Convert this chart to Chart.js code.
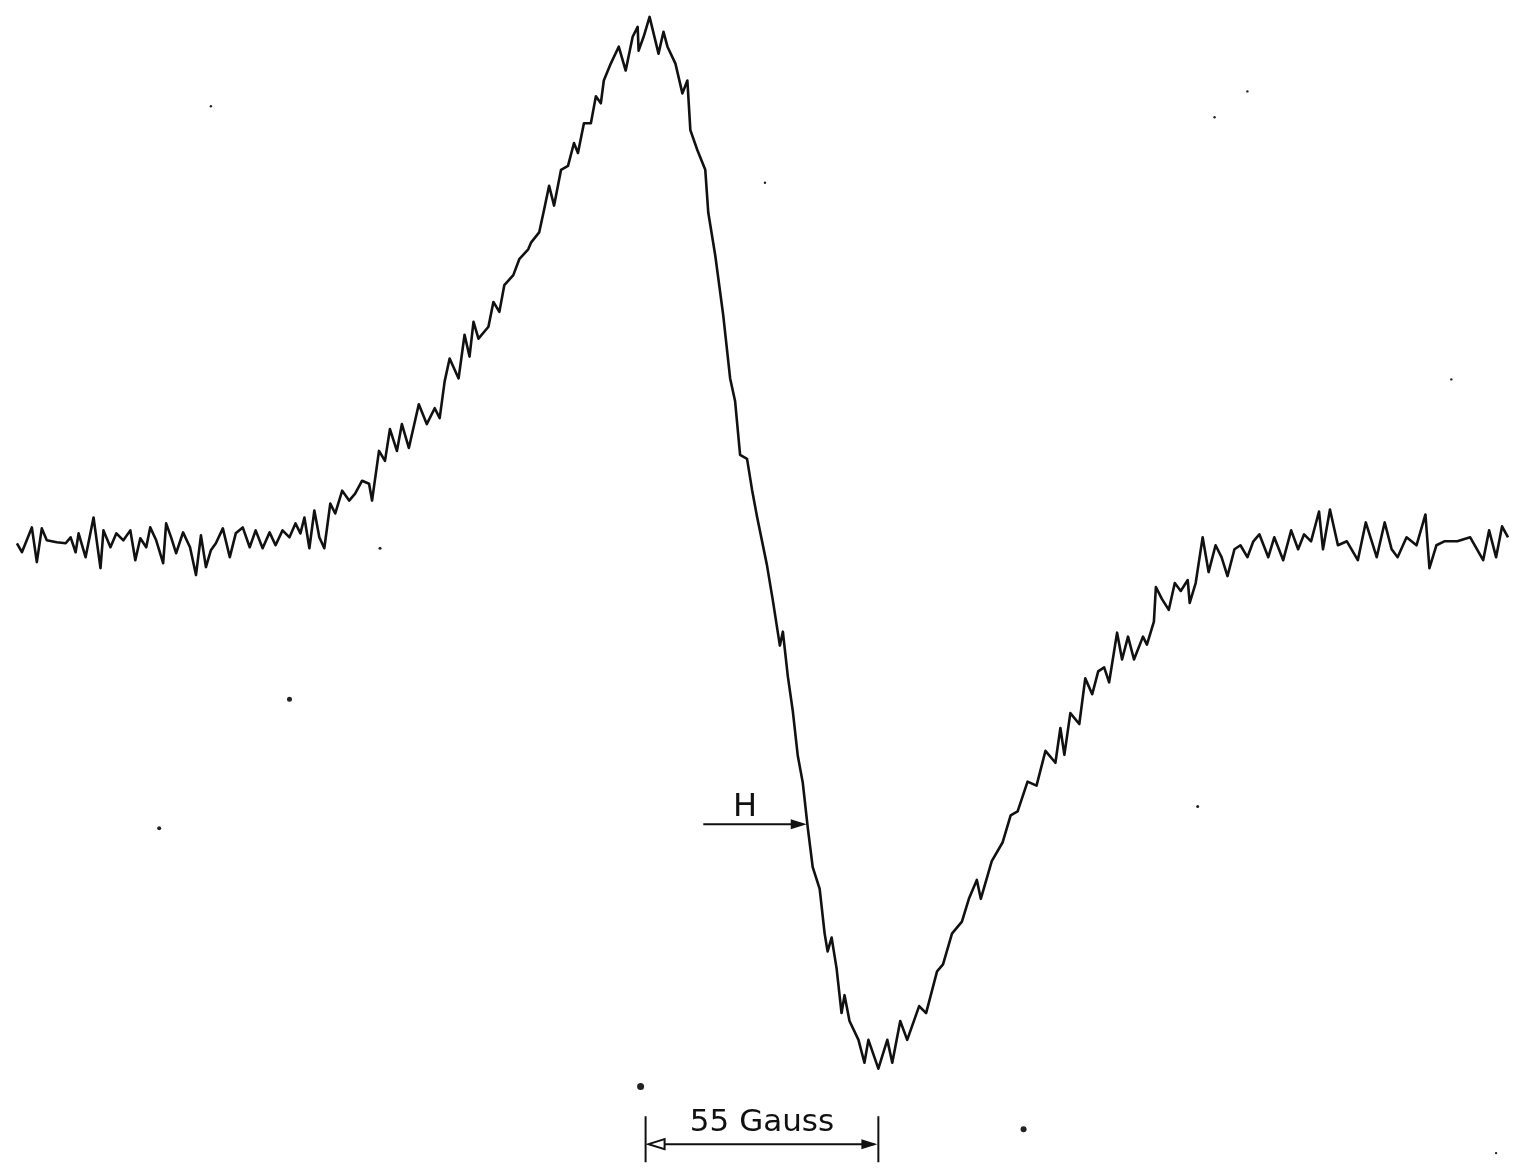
<!DOCTYPE html>
<html>
<head>
<meta charset="utf-8">
<script src="https://cdn.jsdelivr.net/npm/chart.js@4.4.1/dist/chart.umd.min.js"></script>
<style>
  html, body { margin: 0; padding: 0; background: #fff; }
  #wrap { width: 1515px; height: 1169px; }
</style>
</head>
<body>
<div id="wrap"><canvas id="esr" width="1515" height="1169"></canvas></div>
<script>
// ESR derivative trace (arbitrary units)
// field: sweep position, signal: pen deflection from baseline (up = positive)
var field = [
  13, 18, 28, 33, 38, 43, 53, 62, 67, 72, 75, 82, 90, 97, 100, 107, 113, 120, 127, 132,
  137, 143, 147, 153, 160, 163, 168, 173, 180, 187, 193, 198, 203, 208, 213, 220, 227, 233, 240, 247,
  253, 260, 267, 273, 280, 287, 293, 298, 302, 307, 312, 317, 322, 328, 333, 340, 347, 353, 360, 367,
  370, 377, 383, 388, 395, 400, 407, 417, 425, 433, 438, 443, 448, 457, 463, 468, 472, 477, 487, 492,
  498, 503, 512, 518, 527, 530, 538, 543, 548, 553, 560, 567, 573, 577, 583, 590, 595, 600, 603, 610,
  618, 625, 632, 637, 638, 643, 649, 658, 663, 667, 675, 682, 687, 690, 697, 705, 708, 715, 723, 730,
  735, 740, 747, 752, 757, 767, 773, 780, 783, 788, 793, 798, 803, 808, 813, 820, 825, 828, 832, 837,
  842, 845, 850, 859, 865, 869, 879, 888, 893, 901, 908, 920, 927, 938, 944, 953, 963, 970, 978, 982,
  993, 1004, 1012, 1019, 1029, 1038, 1047, 1057, 1062, 1066, 1072, 1081, 1087, 1094, 1100, 1106, 1111, 1119, 1124, 1130,
  1136, 1145, 1149, 1156, 1158, 1164, 1171, 1177, 1183, 1190, 1192, 1198, 1205, 1211, 1218, 1224, 1230, 1237, 1243, 1250,
  1256, 1262, 1271, 1277, 1286, 1294, 1301, 1307, 1314, 1322, 1326, 1333, 1341, 1350, 1361, 1369, 1380, 1388, 1395, 1401,
  1410, 1420, 1429, 1433, 1440, 1448, 1461, 1474, 1487, 1493, 1500, 1506, 1512
];
var signal = [
  2, -7, 18, -17, 17, 5, 3, 2, 8, -7, 12, -12, 28, -23, 15, -2, 12, 5, 15, -15,
  7, -2, 18, 5, -18, 22, 8, -8, 13, -2, -30, 10, -22, -5, 2, 17, -12, 12, 18, -2,
  15, -3, 13, 0, 15, 8, 22, 12, 28, -3, 35, 8, -3, 42, 32, 55, 45, 52, 65, 62,
  45, 95, 85, 117, 95, 122, 98, 142, 122, 138, 128, 165, 188, 168, 212, 190, 225, 208, 220, 245,
  235, 262, 272, 288, 298, 305, 315, 338, 362, 342, 378, 382, 405, 395, 425, 425, 452, 445, 468, 485,
  502, 478, 512, 522, 498, 512, 532, 495, 517, 502, 485, 455, 468, 418, 398, 378, 335, 292, 232, 168,
  145, 91, 87, 56, 29, -20, -56, -101, -87, -132, -167, -212, -239, -284, -324, -346, -391, -409, -395, -426,
  -471, -453, -479, -498, -521, -498, -527, -498, -521, -479, -498, -464, -471, -429, -422, -391, -379, -356, -337, -356,
  -318, -299, -272, -268, -238, -242, -207, -219, -184, -211, -169, -180, -134, -150, -127, -123, -138, -88, -115, -92,
  -115, -92, -100, -77, -42, -54, -65, -38, -46, -35, -58, -38, 8, -27, 0, -12, -31, -4, 0, -12,
  4, 11, -12, 8, -15, 15, -4, 11, 4, 34, -4, 36, 0, 4, -15, 23, -12, 23, -4, -12,
  8, 0, 31, -23, 0, 4, 4, 8, -15, 15, -12, 19, 8
];

// dust specks on the chart paper
var speckField = [640, 1025, 287, 156, 378, 1200, 1217, 1250, 208, 765, 1455, 1500];
var speckSignal = [-545, -588, -155, -285, -3, -263, 431, 457, 442, 365, 167, -612];
var speckSize = [3.5, 3, 2.5, 2, 1.5, 1.5, 1.2, 1.2, 1.2, 1.2, 1.2, 1.2];

// annotations
var hArrow = { from: 703, to: 807, level: -281, label: 'H' };
var gaussBar = { from: 645, to: 879, level: -603, label: '55 Gauss' };

var trace = [];
for (var i = 0; i < field.length; i++) {
  trace.push({ x: field[i], y: signal[i] });
}
var specks = [];
for (var i = 0; i < speckField.length; i++) {
  specks.push({ x: speckField[i], y: speckSignal[i] });
}

function arrowHead(ctx, tipX, y, dir, filled) {
  // dir = 1 points right, -1 points left
  ctx.beginPath();
  ctx.moveTo(tipX, y);
  ctx.lineTo(tipX - dir * 16, y - 5);
  ctx.lineTo(tipX - dir * 16, y + 5);
  ctx.closePath();
  if (filled) {
    ctx.fill();
  } else {
    ctx.fillStyle = '#fff';
    ctx.fill();
    ctx.stroke();
    ctx.fillStyle = '#111';
  }
}

var labelsPlugin = {
  id: 'labels',
  afterDraw: function(chart) {
    var ctx = chart.ctx;
    var xs = chart.scales.x, ys = chart.scales.y;
    ctx.save();
    ctx.strokeStyle = '#111';
    ctx.fillStyle = '#111';
    ctx.lineWidth = 2;

    // H arrow
    var hy = ys.getPixelForValue(hArrow.level);
    var hx0 = xs.getPixelForValue(hArrow.from), hx1 = xs.getPixelForValue(hArrow.to);
    ctx.beginPath();
    ctx.moveTo(hx0, hy);
    ctx.lineTo(hx1 - 6, hy);
    ctx.stroke();
    arrowHead(ctx, hx1, hy, 1, true);
    ctx.font = '32px "DejaVu Sans"';
    ctx.textAlign = 'center';
    ctx.textBaseline = 'alphabetic';
    ctx.fillText(hArrow.label, (hx0 + hx1) / 2 - 10, hy - 8);

    // 55 Gauss scale bar
    var gy = ys.getPixelForValue(gaussBar.level);
    var gx0 = xs.getPixelForValue(gaussBar.from), gx1 = xs.getPixelForValue(gaussBar.to);
    ctx.beginPath();
    ctx.moveTo(gx0, gy - 28); ctx.lineTo(gx0, gy + 18);
    ctx.moveTo(gx1, gy - 28); ctx.lineTo(gx1, gy + 18);
    ctx.moveTo(gx0 + 4, gy); ctx.lineTo(gx1 - 4, gy);
    ctx.stroke();
    arrowHead(ctx, gx0 + 3, gy, -1, false);
    arrowHead(ctx, gx1 - 1, gy, 1, true);
    ctx.font = '31px "DejaVu Sans"';
    ctx.fillText(gaussBar.label, (gx0 + gx1) / 2, gy - 13);
    ctx.restore();
  }
};

var chart = new Chart(document.getElementById('esr'), {
  type: 'line',
  data: {
    datasets: [{
      label: 'ESR signal',
      data: trace,
      borderColor: '#111',
      borderWidth: 2.6,
      borderJoinStyle: 'round',
      pointRadius: 0,
      tension: 0,
      fill: false,
      clip: false
    }, {
      type: 'scatter',
      label: 'specks',
      data: specks,
      pointRadius: speckSize,
      pointBackgroundColor: '#222',
      pointBorderWidth: 0,
      clip: false
    }]
  },
  options: {
    responsive: false,
    devicePixelRatio: 1,
    animation: false,
    layout: { padding: 0 },
    plugins: { legend: { display: false }, tooltip: { enabled: false } },
    scales: {
      x: { type: 'linear', min: 0, max: 1515, display: false },
      y: { type: 'linear', min: -624, max: 545, display: false }
    }
  },
  plugins: [labelsPlugin]
});
</script>
</body>
</html>
